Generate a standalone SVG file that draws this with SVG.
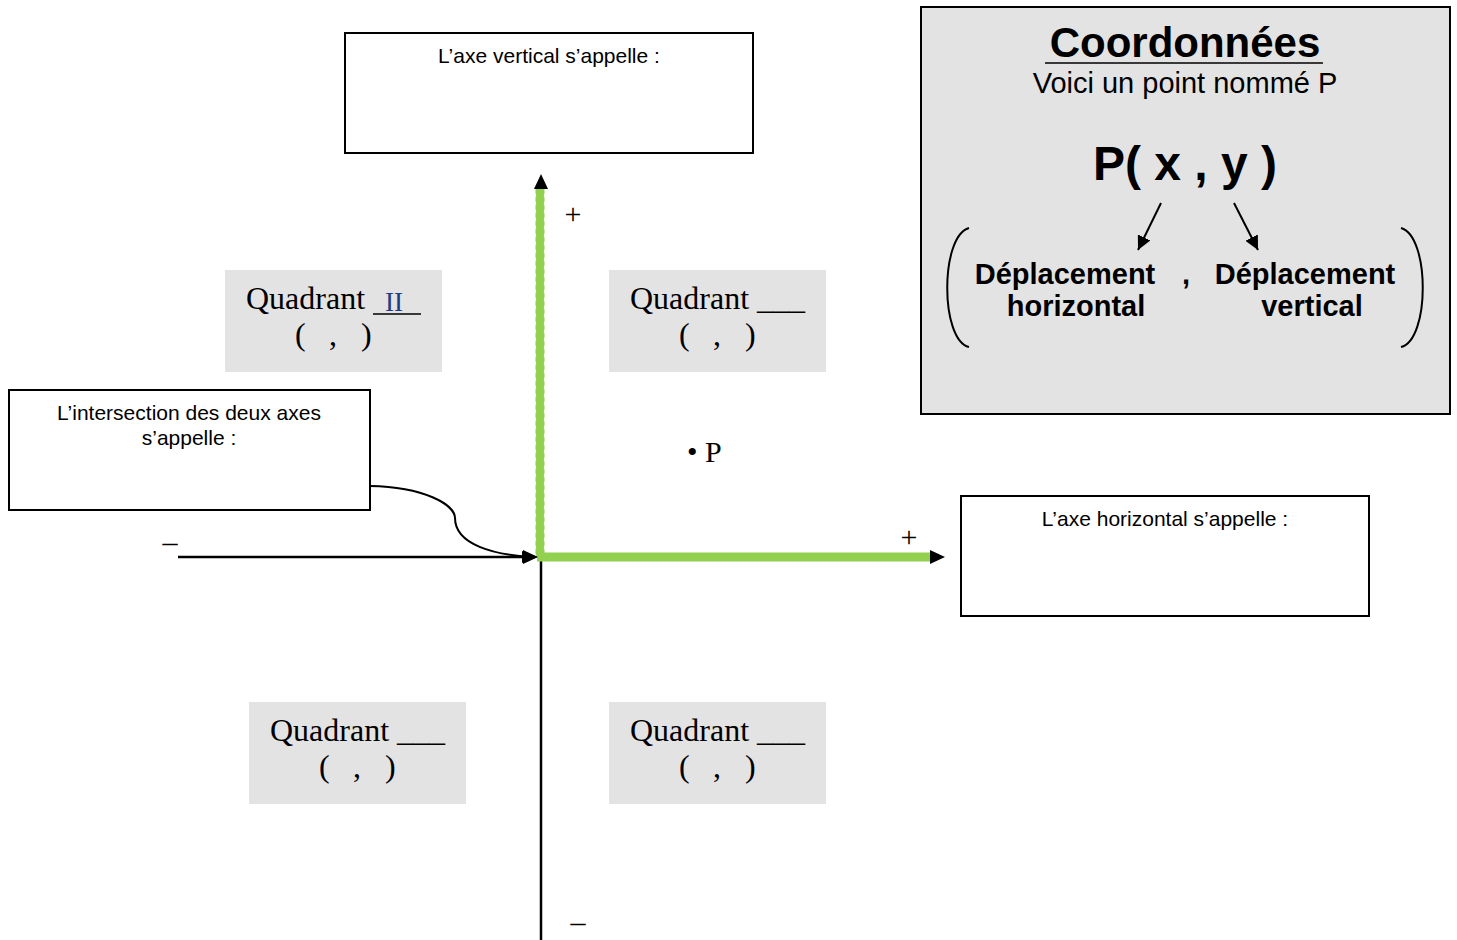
<svg xmlns="http://www.w3.org/2000/svg" width="1457" height="940" viewBox="0 0 1457 940">
<style>
.box{fill:#fff;stroke:#000;stroke-width:2}
.q{fill:#e3e3e3}
.sans{font-family:"Liberation Sans",Arial,sans-serif;fill:#000}
.serif{font-family:"Liberation Serif","Times New Roman",serif;fill:#000}
.qt{font-size:32px}
.lbl{font-size:21px;text-anchor:middle}
.b{font-weight:bold}
</style>
<defs>
<marker id="ahs" markerWidth="14" markerHeight="14" refX="14" refY="7" orient="auto" markerUnits="userSpaceOnUse" viewBox="0 0 14 14">
<path d="M0,0 L14,7 L0,14 z" fill="#000"/>
</marker>
</defs>
<rect width="1457" height="940" fill="#fff"/>

<g id="axes">
<line x1="178" y1="557" x2="524" y2="557" stroke="#000" stroke-width="2.5"/>
<path d="M523,550 L538,557 L523,564 z" fill="#000"/>
<line x1="541" y1="557" x2="541" y2="940" stroke="#000" stroke-width="2.5"/>
<line x1="541" y1="188" x2="541" y2="557" stroke="#000" stroke-width="2"/>
<line x1="540" y1="190" x2="540" y2="558" stroke="#92d050" stroke-width="6"/>
<line x1="540" y1="190" x2="540" y2="558" stroke="#92d050" stroke-width="9" stroke-dasharray="3 5" stroke-linecap="round"/>
<path d="M534,189 L541,174 L548,189 z" fill="#000"/>
<line x1="537" y1="557" x2="931" y2="557" stroke="#92d050" stroke-width="9"/>
<path d="M930,550 L945,557 L930,564 z" fill="#000"/>
</g>

<g id="connectors">
<path d="M370,486 C425,487 455,505 455,518 C455,545 495,555 532,557" fill="none" stroke="#000" stroke-width="2"/>
<path d="M522,551 L538,557 L522,563 z" fill="#000"/>
</g>

<g id="signs" class="serif">
<text x="573" y="224" font-size="30" text-anchor="middle">+</text>
<text x="909" y="547" font-size="30" text-anchor="middle">+</text>
<text x="170" y="552" font-size="30" text-anchor="middle">–</text>
<text x="578" y="932" font-size="30" text-anchor="middle">–</text>
</g>

<g id="box-vertical">
<rect class="box" x="345" y="33" width="408" height="120"/>
<text class="sans lbl" x="549" y="63">L’axe vertical s’appelle :</text>
</g>

<g id="box-horizontal">
<rect class="box" x="961" y="496" width="408" height="120"/>
<text class="sans lbl" x="1165" y="526">L’axe horizontal s’appelle :</text>
</g>

<g id="box-intersection">
<rect class="box" x="9" y="390" width="361" height="120"/>
<text class="sans lbl" x="189" y="420">L’intersection des deux axes</text>
<text class="sans lbl" x="189" y="445">s’appelle :</text>
</g>

<g id="quadrant-II">
<rect class="q" x="225" y="270" width="217" height="102"/>
<text class="serif qt" x="246" y="309">Quadrant</text>
<line x1="373" y1="314" x2="421" y2="314" stroke="#000" stroke-width="1.5"/>
<text class="serif" x="385" y="311" font-size="27" style="fill:#1f3c88">II</text>
<text class="serif qt" y="345"><tspan x="295">(</tspan><tspan x="329">,</tspan><tspan x="361">)</tspan></text>
</g>

<g id="quadrant-I">
<rect class="q" x="609" y="270" width="217" height="102"/>
<text class="serif qt" x="630" y="309">Quadrant</text>
<text class="serif qt" x="757" y="309">___</text>
<text class="serif qt" y="345"><tspan x="679">(</tspan><tspan x="713">,</tspan><tspan x="745">)</tspan></text>
</g>

<g id="quadrant-III">
<rect class="q" x="249" y="702" width="217" height="102"/>
<text class="serif qt" x="270" y="741">Quadrant</text>
<text class="serif qt" x="397" y="741">___</text>
<text class="serif qt" y="777"><tspan x="319">(</tspan><tspan x="353">,</tspan><tspan x="385">)</tspan></text>
</g>

<g id="quadrant-IV">
<rect class="q" x="609" y="702" width="217" height="102"/>
<text class="serif qt" x="630" y="741">Quadrant</text>
<text class="serif qt" x="757" y="741">___</text>
<text class="serif qt" y="777"><tspan x="679">(</tspan><tspan x="713">,</tspan><tspan x="745">)</tspan></text>
</g>

<g id="point-P">
<text class="serif" x="687" y="462" font-size="30">• P</text>
</g>

<g id="coordonnees">
<rect x="921" y="7" width="529" height="407" fill="#e3e3e3" stroke="#000" stroke-width="2"/>
<text class="sans b" x="1185" y="57" font-size="42" text-anchor="middle">Coordonnées</text>
<line x1="1045" y1="63" x2="1323" y2="63" stroke="#000" stroke-width="1.5"/>
<text class="sans" x="1185" y="93" font-size="29" text-anchor="middle">Voici un point nommé P</text>
<text class="sans b" x="1185" y="180" font-size="48" text-anchor="middle">P( x , y )</text>
<line x1="1161" y1="203" x2="1138" y2="250" stroke="#000" stroke-width="2" marker-end="url(#ahs)"/>
<line x1="1234" y1="203" x2="1258" y2="250" stroke="#000" stroke-width="2" marker-end="url(#ahs)"/>
<path d="M969,228 C940,236 940,340 969,347" fill="none" stroke="#000" stroke-width="2"/>
<path d="M1401,228 C1430,236 1430,340 1401,347" fill="none" stroke="#000" stroke-width="2"/>
<text class="sans b" x="1065" y="284" font-size="29" text-anchor="middle">Déplacement</text>
<text class="sans b" x="1076" y="316" font-size="29" text-anchor="middle">horizontal</text>
<text class="sans b" x="1186" y="284" font-size="29" text-anchor="middle">,</text>
<text class="sans b" x="1305" y="284" font-size="29" text-anchor="middle">Déplacement</text>
<text class="sans b" x="1312" y="316" font-size="29" text-anchor="middle">vertical</text>
</g>
</svg>
